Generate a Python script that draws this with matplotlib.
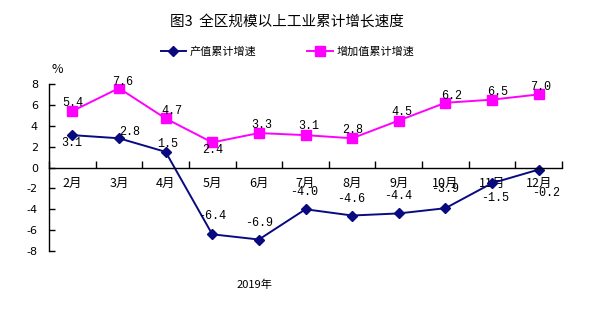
import matplotlib
matplotlib.use("Agg")
import matplotlib.pyplot as plt
import numpy as np

plt.rcParams['font.family'] = ['Noto Sans CJK SC', 'DejaVu Sans']

# 月份与两条增速序列
months = ['2月', '3月', '4月', '5月', '6月', '7月', '8月', '9月', '10月', '11月', '12月']
output_growth = [3.1, 2.8, 1.5, -6.4, -6.9, -4.0, -4.6, -4.4, -3.9, -1.5, -0.2]
added_growth = [5.4, 7.6, 4.7, 2.4, 3.3, 3.1, 2.8, 4.5, 6.2, 6.5, 7.0]
y_ticks = [-8, -6, -4, -2, 0, 2, 4, 6, 8]

# 数据标签偏移（像素）
output_offsets = [(-1, -8), (11, 6), (2, 8), (0, 18), (0, 17), (-1, 17),
                  (-1, 17), (-1, 17), (0, 19), (3, -15), (7, -23)]
added_offsets = [(0, 8), (4, 6), (6, 7), (0, -8), (3, 8), (3, 9),
                 (1, 8), (3, 9), (6, 7), (6, 8), (2, 7)]

NAVY = '#0a0a80'
MAGENTA = '#ff00ff'

fig = plt.figure(figsize=(5.9, 3.24), dpi=100)
ax = fig.add_axes([49 / 590, 73 / 324, 513 / 590, 167 / 324])

x = np.arange(len(months))
l1, = ax.plot(x, output_growth, color=NAVY, lw=1.4, marker='D', ms=5.5,
              markerfacecolor=NAVY, markeredgecolor=NAVY, label='产值累计增速')
l2, = ax.plot(x, added_growth, color=MAGENTA, lw=1.4, marker='s', ms=7,
              markerfacecolor=MAGENTA, markeredgecolor=MAGENTA, label='增加值累计增速')

for xi, v, (dx, dy) in zip(x, output_growth, output_offsets):
    ax.annotate(f'{v:.1f}', (xi, v), xytext=(dx, dy), textcoords='offset pixels',
                ha='center', va='center', fontsize=8.5, family='Liberation Mono')
for xi, v, (dx, dy) in zip(x, added_growth, added_offsets):
    ax.annotate(f'{v:.1f}', (xi, v), xytext=(dx, dy), textcoords='offset pixels',
                ha='center', va='center', fontsize=8.5, family='Liberation Mono')

ax.set_xlim(-0.5, len(months) - 0.5)
ax.set_ylim(-8, 8)
ax.set_yticks(y_ticks)
ax.set_yticklabels([str(t) for t in y_ticks], fontsize=8, family='DejaVu Sans')

ax.spines['top'].set_visible(False)
ax.spines['right'].set_visible(False)
ax.spines['bottom'].set_position(('data', 0))
for s in ('left', 'bottom'):
    ax.spines[s].set_linewidth(1.0)
    ax.spines[s].set_color('black')

# 类别间刻度，标签居中
ax.set_xticks(np.arange(-0.5, len(months)), minor=False)
ax.set_xticklabels([''] * (len(months) + 1))
ax.set_xticks(x, minor=True)
ax.set_xticklabels(months, minor=True, fontsize=9)
ax.tick_params(axis='x', which='major', direction='in', length=5, width=1)
ax.tick_params(axis='x', which='minor', length=0, pad=7)
ax.tick_params(axis='y', direction='in', length=4, width=1, pad=8)

fig.text(0.487, 0.932, '图3  全区规模以上工业累计增长速度', ha='center', va='center',
         fontsize=10.5)
fig.legend(handles=[l1, l2], loc='center', bbox_to_anchor=(0.487, 0.84), ncol=2,
           frameon=False, fontsize=8, columnspacing=4.6, handlelength=2.3,
           handletextpad=0.3)
fig.text(57 / 590, 1 - 69 / 324, '%', ha='center', va='center', fontsize=9)
fig.text(0.432, 0.12, '2019年', ha='center', va='center', fontsize=8)

fig.savefig('out.png', dpi=100)
